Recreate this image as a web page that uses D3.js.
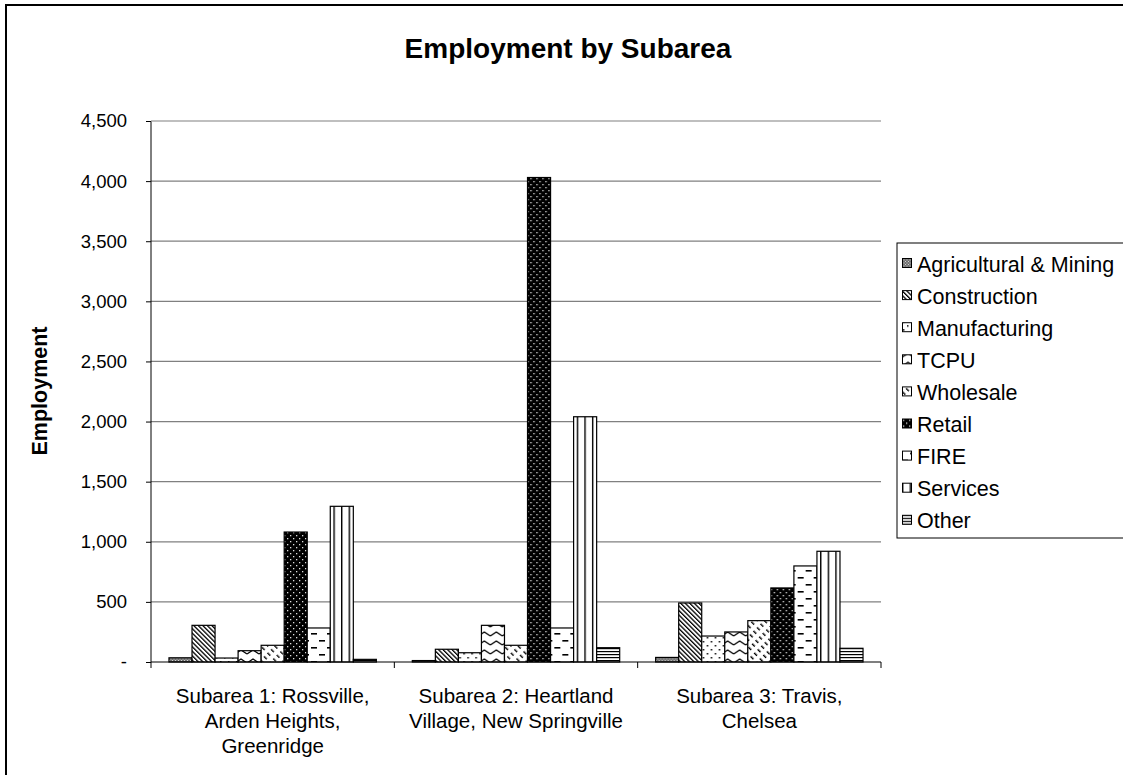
<!DOCTYPE html>
<html><head><meta charset="utf-8">
<script src="https://cdn.jsdelivr.net/npm/d3@7"></script>
<style>
html,body{margin:0;padding:0;background:#fff;}
text{font-family:"Liberation Sans",Arial,sans-serif;}
</style></head>
<body>
<svg id="chart" width="1123" height="775"></svg>
<script>
const categories = [
  ["Subarea 1: Rossville,", "Arden Heights,", "Greenridge"],
  ["Subarea 2: Heartland", "Village, New Springville"],
  ["Subarea 3: Travis,", "Chelsea"]
];
const seriesNames = ["Agricultural & Mining","Construction","Manufacturing","TCPU","Wholesale","Retail","FIRE","Services","Other"];
const agricultural = [35, 12, 38];
const construction = [305, 106, 491];
const manufacturing = [33, 77, 216];
const tcpu = [94, 305, 250];
const wholesale = [139, 139, 344];
const retail = [1081, 4030, 616];
const fire = [283, 283, 799];
const services = [1295, 2040, 921];
const other = [22, 119, 114];
const yTicks = [0,500,1000,1500,2000,2500,3000,3500,4000,4500];

const seriesValues = [agricultural, construction, manufacturing, tcpu, wholesale, retail, fire, services, other];

const svg = d3.select("#chart");
const defs = svg.append("defs");

function pat(id, w, h, opts){
  const p = defs.append("pattern").attr("id", id).attr("patternUnits","userSpaceOnUse")
    .attr("width", w).attr("height", h);
  if (opts && opts.transform) p.attr("patternTransform", opts.transform);
  return p;
}
// Agricultural: fine dark grey stipple
{ const p = pat("p0", 3, 3);
  p.append("rect").attr("width",3).attr("height",3).attr("fill","#6e6e6e");
  p.append("rect").attr("x",0).attr("y",0).attr("width",1).attr("height",1).attr("fill","#d0d0d0");
  p.append("rect").attr("x",1.5).attr("y",1.5).attr("width",1).attr("height",1).attr("fill","#d0d0d0"); }
// Construction: downward diagonal
{ const p = pat("p1", 3.2, 6, {transform:"rotate(-45)"});
  p.append("rect").attr("width",3.2).attr("height",6).attr("fill","#fff");
  p.append("rect").attr("x",0).attr("width",1.3).attr("height",6).attr("fill","#000"); }
// Manufacturing: sparse dots
{ const p = pat("p2", 8, 8);
  p.append("rect").attr("width",8).attr("height",8).attr("fill","#fff");
  p.append("rect").attr("x",1).attr("y",1).attr("width",1.5).attr("height",1.5).attr("fill","#000");
  p.append("rect").attr("x",5).attr("y",5).attr("width",1.5).attr("height",1.5).attr("fill","#000"); }
// TCPU: zigzag
{ const p = pat("p3", 12, 9);
  p.append("rect").attr("width",12).attr("height",9).attr("fill","#fff");
  p.append("path").attr("d","M0,6 L6,2 L12,6").attr("fill","none").attr("stroke","#000").attr("stroke-width",1.3); }
// Wholesale: dashed downward diagonal
{ const p = pat("p4", 5, 8, {transform:"rotate(-45)"});
  p.append("rect").attr("width",5).attr("height",8).attr("fill","#fff");
  p.append("rect").attr("x",0).attr("y",0).attr("width",1.4).attr("height",4).attr("fill","#000"); }
// Retail: black with white dots
{ const p = pat("p5", 6, 6);
  p.append("rect").attr("width",6).attr("height",6).attr("fill","#000");
  p.append("rect").attr("x",1).attr("y",1).attr("width",1.3).attr("height",1.3).attr("fill","#ddd");
  p.append("rect").attr("x",4).attr("y",4).attr("width",1.3).attr("height",1.3).attr("fill","#ddd"); }
// FIRE: horizontal dashes
{ const p = pat("p6", 16, 14);
  p.append("rect").attr("width",16).attr("height",14).attr("fill","#fff");
  p.append("rect").attr("x",0).attr("y",3).attr("width",6).attr("height",1.6).attr("fill","#000");
  p.append("rect").attr("x",8).attr("y",10).attr("width",6).attr("height",1.6).attr("fill","#000"); }
// Services: wide vertical stripes
{ const p = pat("p7", 7.6, 4);
  p.append("rect").attr("width",7.6).attr("height",4).attr("fill","#fff");
  p.append("rect").attr("x",0).attr("width",1.4).attr("height",4).attr("fill","#000"); }
// Other: narrow horizontal lines
{ const p = pat("p8", 4, 3);
  p.append("rect").attr("width",4).attr("height",3).attr("fill","#fff");
  p.append("rect").attr("y",0).attr("width",4).attr("height",1.2).attr("fill","#000"); }

// outer border
svg.append("rect").attr("x",6).attr("y",5).attr("width",1130).attr("height",790)
  .attr("fill","none").attr("stroke","#000").attr("stroke-width",2);

// title
svg.append("text").attr("x",568).attr("y",58).attr("text-anchor","middle")
  .attr("font-size",28).attr("font-weight","bold").text("Employment by Subarea");

// scales
const x0 = d3.scaleBand().domain(d3.range(categories.length)).range([151, 881]).padding(0);
const x1 = d3.scaleBand().domain(seriesNames).range([0, x0.bandwidth()]).paddingInner(0).paddingOuter(0.78);
const y = d3.scaleLinear().domain([0, 4500]).range([662, 121]);

// gridlines
svg.append("g").selectAll("line").data(yTicks.filter(d=>d>0)).join("line")
  .attr("x1",151).attr("x2",881).attr("y1",d=>y(d)).attr("y2",d=>y(d))
  .attr("stroke","#808080").attr("stroke-width",1.2);

// bars
const groups = svg.append("g").selectAll("g").data(categories.map((c,i)=>i)).join("g")
  .attr("transform", i=>`translate(${x0(i)},0)`);
groups.selectAll("rect").data(i=>seriesNames.map((s,k)=>({s,k,v:seriesValues[k][i]}))).join("rect")
  .attr("x", d=>x1(d.s)).attr("width", x1.bandwidth())
  .attr("y", d=>y(d.v)).attr("height", d=>y(0)-y(d.v))
  .attr("fill", d=>`url(#p${d.k})`).attr("stroke","#000").attr("stroke-width",1.2);

// y axis
const yAxis = d3.axisLeft(y).tickValues(yTicks).tickSize(5).tickPadding(19)
  .tickFormat(d=> d===0 ? "-" : d3.format(",")(d));
const ya = svg.append("g").attr("transform","translate(151,0)").call(yAxis);
ya.select(".domain").attr("stroke","#000").attr("d","M-5,121.5H0V662");
ya.selectAll(".tick line").attr("stroke","#000");
ya.selectAll(".tick text").attr("font-size",18.5).attr("fill","#000")
  .attr("font-family",'"Liberation Sans",Arial,sans-serif');

// x axis
svg.append("line").attr("x1",151).attr("x2",881).attr("y1",662).attr("y2",662).attr("stroke","#000").attr("stroke-width",1.2);
svg.append("g").selectAll("line").data(d3.range(categories.length+1)).join("line")
  .attr("x1",i=>151+i*x0.bandwidth()).attr("x2",i=>151+i*x0.bandwidth())
  .attr("y1",662).attr("y2",668).attr("stroke","#000");

const xl = svg.append("g").selectAll("text").data(categories).join("text")
  .attr("text-anchor","middle").attr("font-size",20.5)
  .attr("transform",(d,i)=>`translate(${x0(i)+x0.bandwidth()/2},703)`);
xl.selectAll("tspan").data(d=>d).join("tspan")
  .attr("x",0).attr("dy",(d,i)=> i===0 ? 0 : 25).text(d=>d);

// y title
svg.append("text").attr("transform","translate(47,391) rotate(-90)")
  .attr("text-anchor","middle").attr("font-size",21.5).attr("font-weight","bold").text("Employment");

// legend
const lg = svg.append("g");
lg.append("rect").attr("x",897).attr("y",243).attr("width",240).attr("height",295)
  .attr("fill","#fff").attr("stroke","#000").attr("stroke-width",1);
const li = lg.selectAll("g").data(seriesNames).join("g")
  .attr("transform",(d,i)=>`translate(902,${264+i*32.1})`);
li.append("rect").attr("x",0.5).attr("y",-5.5).attr("width",9).attr("height",9)
  .attr("fill",(d,i)=>`url(#p${i})`).attr("stroke","#000").attr("stroke-width",1);
li.append("text").attr("x",15).attr("y",7.5).attr("font-size",21.5).text(d=>d);
</script>
</body></html>
